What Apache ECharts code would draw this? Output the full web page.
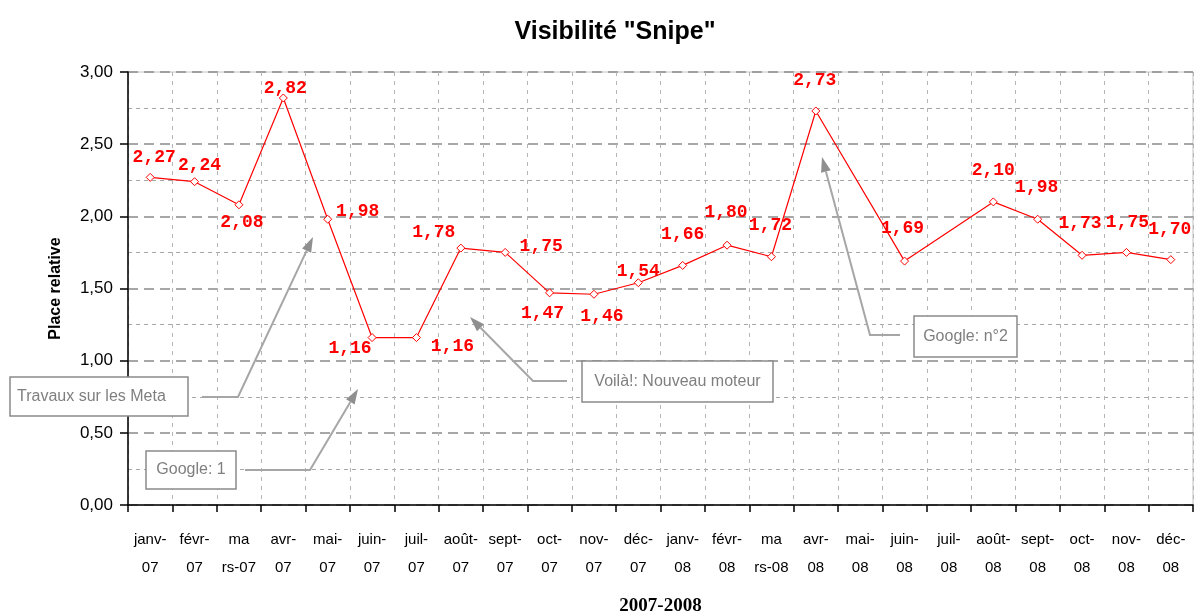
<!DOCTYPE html>
<html>
<head>
<meta charset="utf-8">
<title>Visibilité "Snipe"</title>
<script src="https://cdn.jsdelivr.net/npm/echarts@6/dist/echarts.min.js"></script>
<style>
  html, body { margin: 0; padding: 0; background: #fff; }
  #chart { width: 1196px; height: 614px; }
</style>
</head>
<body>
<div id="chart"></div>
<script>
// données
const categories = [
  'janv-\n07', 'févr-\n07', 'ma\nrs-07', 'avr-\n07', 'mai-\n07', 'juin-\n07',
  'juil-\n07', 'août-\n07', 'sept-\n07', 'oct-\n07', 'nov-\n07', 'déc-\n07',
  'janv-\n08', 'févr-\n08', 'ma\nrs-08', 'avr-\n08', 'mai-\n08', 'juin-\n08',
  'juil-\n08', 'août-\n08', 'sept-\n08', 'oct-\n08', 'nov-\n08', 'déc-\n08',
];
const placeRelative = [
  2.27, 2.24, 2.08, 2.82, 1.98, 1.16, 1.16, 1.78, 1.75, 1.47, 1.46, 1.54,
  1.66, 1.80, 1.72, 2.73, null, 1.69, null, 2.10, 1.98, 1.73, 1.75, 1.70,
];
const yTicks = [0, 0.5, 1, 1.5, 2, 2.5, 3];
const notes = ['Travaux sur les Meta', 'Google: 1', 'Voilà!: Nouveau moteur', 'Google: n°2'];

// décalage des étiquettes par rapport au point (px)
const labelOffsets = [
  [4, -20], [5, -16], [3, 18], [2, -10], [30, -8], [-22, 11],
  [36, 9], [-27, -16], [36, -6], [-7, 21], [8, 22], [0, -11],
  [0, -31], [-1, -33], [-1, -31], [-1, -31], [0, 0], [-2, -33],
  [0, 0], [0, -31], [-1, -32], [-2, -32], [1, -30], [-1, -30],
];

const fmt = (v) => v.toFixed(2).replace('.', ',');
const grey = '#8f8f8f';

// flèche: polyligne + pointe
function arrow(pts) {
  const p1 = pts[pts.length - 2];
  const p2 = pts[pts.length - 1];
  const dx = p2[0] - p1[0];
  const dy = p2[1] - p1[1];
  const len = Math.sqrt(dx * dx + dy * dy);
  const ux = dx / len;
  const uy = dy / len;
  const L = 15;
  const W = 10;
  const bx = p2[0] - ux * L;
  const by = p2[1] - uy * L;
  const line = pts.slice(0, -1).concat([[bx, by]]);
  return [
    {
      type: 'polyline', silent: true, z: 10,
      shape: { points: line },
      style: { stroke: '#a6a6a6', lineWidth: 2, fill: null },
    },
    {
      type: 'polygon', silent: true, z: 10,
      shape: {
        points: [p2, [bx - uy * W / 2, by + ux * W / 2], [bx + uy * W / 2, by - ux * W / 2]],
      },
      style: { fill: grey },
    },
  ];
}

function box(x, y, w, h, text, align) {
  return [
    {
      type: 'rect', silent: true, z: 11,
      shape: { x: x, y: y, width: w, height: h },
      style: { fill: '#fff', stroke: '#8a8a8a', lineWidth: 1.5 },
    },
    {
      type: 'text', silent: true, z: 12,
      x: align === 'left' ? x + 7 : x + w / 2,
      y: y + h / 2,
      style: {
        text: text, fill: '#7f7f7f', font: '16px "Liberation Sans", Arial, sans-serif',
        align: align === 'left' ? 'left' : 'center', verticalAlign: 'middle',
      },
    },
  ];
}

const graphics = [].concat(
  arrow([[202, 397], [238, 397], [313, 237]]),
  box(10, 377, 178, 39, notes[0], 'left'),
  arrow([[245, 470], [310, 470], [358, 389]]),
  box(146, 451, 90, 38, notes[1]),
  arrow([[567, 381], [533, 381], [470, 317]]),
  box(582, 361, 191, 41, notes[2]),
  arrow([[900, 335], [870, 335], [822, 157]]),
  box(914, 316, 103, 41, notes[3])
);

const chart = echarts.init(document.getElementById('chart'), null, { renderer: 'canvas' });

chart.setOption({
  animation: false,
  backgroundColor: '#fff',
  title: {
    text: 'Visibilité "Snipe"',
    left: 610,
    textAlign: 'center',
    top: 15,
    textStyle: {
      fontFamily: '"Liberation Sans", Arial, sans-serif',
      fontSize: 25,
      fontWeight: 'bold',
      color: '#000',
    },
  },
  grid: {
    left: 128,
    right: 3,
    top: 72,
    bottom: 109,
    outerBoundsMode: 'none',
    show: true,
    borderColor: '#c0c0c0',
    borderWidth: 1,
  },
  xAxis: {
    type: 'category',
    data: categories,
    boundaryGap: true,
    name: '2007-2008',
    nameLocation: 'middle',
    nameGap: 92,
    nameTextStyle: {
      fontFamily: '"Liberation Serif", "Times New Roman", serif',
      fontWeight: 'bold',
      fontSize: 19,
      color: '#000',
    },
    axisLine: { lineStyle: { color: '#000', width: 1.5 } },
    axisTick: { show: true, interval: 0, length: 7, lineStyle: { color: '#000', width: 1.5 } },
    axisLabel: {
      interval: 0,
      margin: 21,
      lineHeight: 28,
      fontFamily: '"Liberation Sans", Arial, sans-serif',
      fontSize: 15,
      color: '#000',
    },
    splitLine: {
      show: true,
      interval: 0,
      lineStyle: { color: '#b4b4b4', type: [4, 5], width: 1 },
    },
  },
  yAxis: {
    type: 'value',
    min: yTicks[0],
    max: yTicks[yTicks.length - 1],
    interval: yTicks[1] - yTicks[0],
    name: 'Place relative',
    nameLocation: 'middle',
    nameRotate: 90,
    nameGap: 64,
    nameTextStyle: {
      fontFamily: '"Liberation Sans", Arial, sans-serif',
      fontWeight: 'bold',
      fontSize: 16,
      color: '#000',
    },
    axisLine: { show: true, lineStyle: { color: '#000', width: 1.5 } },
    axisTick: { show: true, length: 8, lineStyle: { color: '#000', width: 1.5 } },
    axisLabel: {
      margin: 15,
      formatter: (v) => fmt(v),
      fontFamily: '"Liberation Sans", Arial, sans-serif',
      fontSize: 17,
      color: '#000',
    },
    splitLine: {
      show: true,
      lineStyle: { color: '#8a8a8a', type: [10, 6], width: 1.5 },
    },
    minorTick: { show: false, splitNumber: 2 },
    minorSplitLine: {
      show: true,
      lineStyle: { color: '#a8a8a8', type: [4, 4], width: 1 },
    },
  },
  graphic: graphics,
  series: [
    {
      type: 'line',
      connectNulls: true,
      showAllSymbol: true,
      symbol: 'diamond',
      symbolSize: 8,
      lineStyle: { color: '#ff0000', width: 1.2 },
      itemStyle: { color: '#fff', borderColor: '#ff0000', borderWidth: 1 },
      z: 5,
      data: placeRelative.map((v, i) => (v === null ? null : {
        value: v,
        label: { offset: labelOffsets[i] },
      })),
      label: {
        show: true,
        position: 'inside',
        align: 'center',
        verticalAlign: 'middle',
        formatter: (p) => fmt(p.value),
        fontFamily: '"Liberation Mono", "DejaVu Sans Mono", monospace',
        fontWeight: 'bold',
        fontSize: 18,
        color: '#ff0000',
      },
    },
  ],
});
</script>
</body>
</html>
